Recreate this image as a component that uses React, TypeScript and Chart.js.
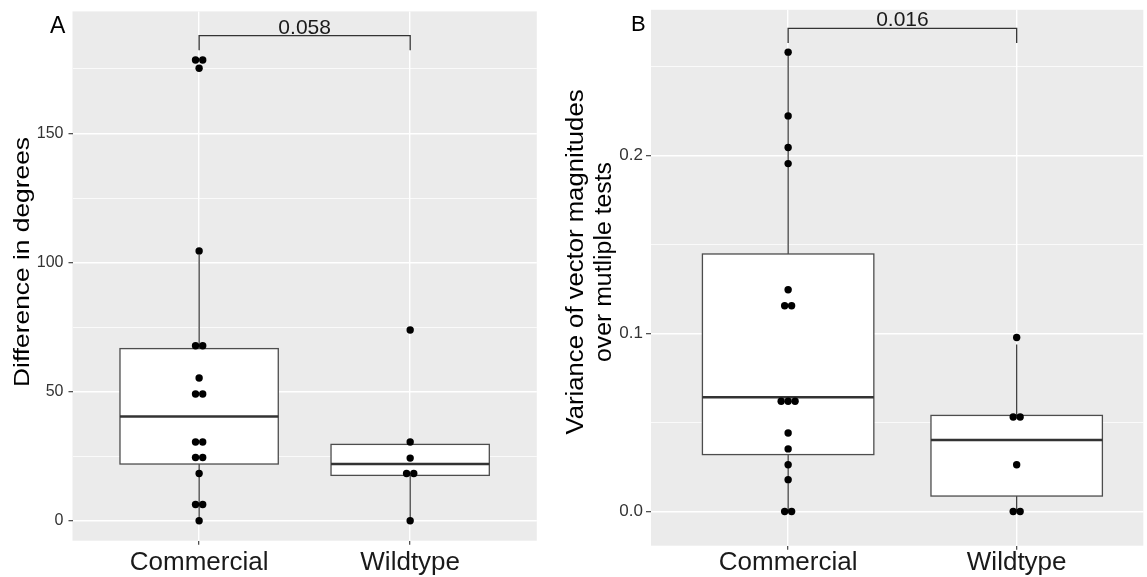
import React, { useEffect, useRef } from 'react';
import { Chart, registerables } from 'chart.js';

Chart.register(...registerables);

// ---------- shared ----------
const categories = ['Commercial', 'Wildtype'];

// ---------- Panel A: Difference in degrees ----------
const aCommercial = [178.5, 178.5, 175.3, 104.5, 67.8, 67.8, 55.3, 49.1, 49.1, 30.5, 30.5, 24.5, 24.5, 18.3, 6.3, 6.3, 0];
const aWildtype = [73.9, 30.5, 24.3, 18.3, 18.3, 0];
const aQ1 = [22.0, 17.6];
const aMedian = [40.4, 22.0];
const aQ3 = [66.7, 29.6];
const aWhiskerLow = [0, 0];
const aWhiskerHigh = [103, 30.5];
const aMajorTicks = [0, 50, 100, 150];
const aMinorTicks = [25, 75, 125, 175];
const aPValue = '0.058';
const aBracket = [187.9, 182.3]; // bar level, tip level
const aTitle = ['Difference in degrees'];

// ---------- Panel B: Variance of vector magnitudes ----------
const bCommercial = [0.2581, 0.2223, 0.2045, 0.1955, 0.1246, 0.1156, 0.1156, 0.062, 0.062, 0.062, 0.0441, 0.0352, 0.0263, 0.0179, 0, 0];
const bWildtype = [0.0978, 0.0531, 0.0531, 0.0263, 0, 0];
const bQ1 = [0.032, 0.0087];
const bMedian = [0.0642, 0.0402];
const bQ3 = [0.1447, 0.054];
const bWhiskerLow = [0, 0];
const bWhiskerHigh = [0.2581, 0.0939];
const bMajorTicks = [0, 0.1, 0.2];
const bMinorTicks = [0.05, 0.15, 0.25];
const bPValue = '0.016';
const bBracket = [0.2715, 0.2633];
const bTitle = ['Variance of vector magnitudes', 'over mutliple tests'];

const FONT = '"Liberation Sans", Arial, Helvetica, sans-serif';
const PANEL_BG = '#EBEBEB';
const INK = '#333333';

// stack identical values side by side (dot-plot style, centred)
function stackDots(values: number[], cat: number, step: number) {
  const counts = new Map<number, number>();
  values.forEach((v) => counts.set(v, (counts.get(v) || 0) + 1));
  const seen = new Map<number, number>();
  return values.map((v) => {
    const n = counts.get(v) as number;
    const k = seen.get(v) || 0;
    seen.set(v, k + 1);
    return { x: cat + (k - (n - 1) / 2) * step, y: v };
  });
}

type PanelOpts = {
  groups: number[][];
  q1: number[]; med: number[]; q3: number[]; wLo: number[]; wHi: number[];
  major: number[]; minor: number[];
  yMin: number; yMax: number; xMax: number;
  padTop: number; padRight: number; yAxisW: number; xAxisH: number;
  dotStep: number;
  pValue: string; bracket: number[];
  letter: string; letterX: number; letterY: number; letterSize: number;
  title: string[]; titleSize: number; titleBaselines: number[]; titleLengths: number[]; titleCenterY: number;
  yTickSize: number; yTickLen: number; yTickPad: number; xTickPad: number;
  fmt: (v: number) => string;
};

function makeConfig(o: PanelOpts): any {
  const isMajor = (v: number) => o.major.some((m) => Math.abs(m - v) < 1e-9);
  const allTicks = [...o.major, ...o.minor].sort((a, b) => a - b);
  const points = o.groups.flatMap((g, i) => stackDots(g, i + 1, o.dotStep));

  const panelPlugin = {
    id: 'panel' + o.letter,
    beforeDraw(chart: any) {
      const { ctx, chartArea: a } = chart;
      ctx.save();
      ctx.fillStyle = '#ffffff';
      ctx.fillRect(0, 0, chart.width, chart.height);
      ctx.fillStyle = PANEL_BG;
      ctx.fillRect(a.left, a.top, a.right - a.left, a.bottom - a.top);
      ctx.restore();
    },
    beforeDatasetsDraw(chart: any) {
      const { ctx } = chart;
      const xs = chart.scales.x;
      const ys = chart.scales.y;
      ctx.save();
      categories.forEach((_, i) => {
        const c = i + 1;
        const xc = xs.getPixelForValue(c);
        const xl = xs.getPixelForValue(c - 0.375);
        const xr = xs.getPixelForValue(c + 0.375);
        const yq1 = ys.getPixelForValue(o.q1[i]);
        const yq3 = ys.getPixelForValue(o.q3[i]);
        const ymed = ys.getPixelForValue(o.med[i]);
        const ylo = ys.getPixelForValue(o.wLo[i]);
        const yhi = ys.getPixelForValue(o.wHi[i]);
        // whiskers
        ctx.strokeStyle = INK;
        ctx.lineWidth = 1.2;
        ctx.beginPath();
        ctx.moveTo(xc, yq3); ctx.lineTo(xc, yhi);
        ctx.moveTo(xc, yq1); ctx.lineTo(xc, ylo);
        ctx.stroke();
        // box
        ctx.fillStyle = '#ffffff';
        ctx.fillRect(xl, yq3, xr - xl, yq1 - yq3);
        ctx.strokeStyle = '#4d4d4d';
        ctx.lineWidth = 1.3;
        ctx.strokeRect(xl, yq3, xr - xl, yq1 - yq3);
        // median
        ctx.strokeStyle = INK;
        ctx.lineWidth = 2.6;
        ctx.beginPath();
        ctx.moveTo(xl, ymed); ctx.lineTo(xr, ymed);
        ctx.stroke();
      });
      ctx.restore();
    },
    afterDraw(chart: any) {
      const { ctx } = chart;
      const xs = chart.scales.x;
      const ys = chart.scales.y;
      ctx.save();
      // significance bracket
      const x1 = xs.getPixelForValue(1);
      const x2 = xs.getPixelForValue(2);
      const yb = ys.getPixelForValue(o.bracket[0]);
      const yt = ys.getPixelForValue(o.bracket[1]);
      ctx.strokeStyle = INK;
      ctx.lineWidth = 1.3;
      ctx.beginPath();
      ctx.moveTo(x1, yt); ctx.lineTo(x1, yb); ctx.lineTo(x2, yb); ctx.lineTo(x2, yt);
      ctx.stroke();
      ctx.fillStyle = '#1a1a1a';
      ctx.font = `21px ${FONT}`;
      ctx.textAlign = 'center';
      ctx.textBaseline = 'alphabetic';
      ctx.fillText(o.pValue, (x1 + x2) / 2, yb - 2);
      // panel letter
      ctx.font = `${o.letterSize}px ${FONT}`;
      ctx.textAlign = 'left';
      ctx.fillStyle = '#000000';
      ctx.fillText(o.letter, o.letterX, o.letterY);
      // y title (rotated, stretched along its length)
      ctx.font = `${o.titleSize}px ${FONT}`;
      ctx.textAlign = 'center';
      o.title.forEach((line, i) => {
        const w = ctx.measureText(line).width;
        ctx.save();
        ctx.translate(o.titleBaselines[i], o.titleCenterY);
        ctx.rotate(-Math.PI / 2);
        ctx.scale(o.titleLengths[i] / w, 1);
        ctx.fillText(line, 0, 0);
        ctx.restore();
      });
      ctx.restore();
    },
  };

  return {
    type: 'scatter',
    data: {
      datasets: [
        {
          data: points,
          pointRadius: 3.7,
          pointHoverRadius: 3.7,
          pointBackgroundColor: '#000000',
          pointBorderWidth: 0,
          pointBorderColor: '#000000',
        },
      ],
    },
    options: {
      responsive: false,
      animation: false,
      events: [],
      layout: { padding: { top: o.padTop, right: o.padRight, left: 0, bottom: 0 } },
      plugins: { legend: { display: false }, tooltip: { enabled: false } },
      scales: {
        x: {
          type: 'linear',
          min: 0.4,
          max: o.xMax,
          bounds: 'data',
          afterBuildTicks: (s: any) => { s.ticks = categories.map((_, i) => ({ value: i + 1 })); },
          afterFit: (s: any) => { s.height = o.xAxisH; },
          ticks: {
            callback: (v: number) => categories[Math.round(v) - 1] || '',
            font: { family: FONT, size: 26, lineHeight: 1 },
            color: '#1a1a1a',
            padding: o.xTickPad,
            maxRotation: 0,
            minRotation: 0,
            autoSkip: false,
          },
          grid: { color: '#ffffff', lineWidth: 1.4, tickColor: INK, tickLength: 4, tickWidth: 1.1 },
          border: { display: false },
        },
        y: {
          type: 'linear',
          min: o.yMin,
          max: o.yMax,
          bounds: 'data',
          afterBuildTicks: (s: any) => { s.ticks = allTicks.map((v) => ({ value: v })); },
          afterFit: (s: any) => { s.width = o.yAxisW; },
          ticks: {
            callback: (v: number) => (isMajor(v) ? o.fmt(v) : ''),
            font: { family: FONT, size: o.yTickSize, lineHeight: 0.8 },
            color: '#333333',
            padding: o.yTickPad,
            autoSkip: false,
          },
          grid: {
            color: '#ffffff',
            lineWidth: (ctx: any) => (ctx.tick && isMajor(ctx.tick.value) ? 1.4 : 0.75),
            tickColor: (ctx: any) => (ctx.tick && isMajor(ctx.tick.value) ? INK : 'rgba(0,0,0,0)'),
            tickLength: o.yTickLen,
            tickWidth: 1.1,
          },
          border: { display: false },
        },
      },
    },
    plugins: [panelPlugin],
  };
}

const panelA: PanelOpts = {
  groups: [aCommercial, aWildtype],
  q1: aQ1, med: aMedian, q3: aQ3, wLo: aWhiskerLow, wHi: aWhiskerHigh,
  major: aMajorTicks, minor: aMinorTicks,
  yMin: -7.7, yMax: 197.3, xMax: 2.6,
  padTop: 9, padRight: 23.2, yAxisW: 72.5, xAxisH: 36.3,
  dotStep: 0.034,
  pValue: aPValue, bracket: aBracket,
  letter: 'A', letterX: 50, letterY: 33.3, letterSize: 23,
  title: aTitle, titleSize: 22, titleBaselines: [29], titleLengths: [250], titleCenterY: 262,
  yTickSize: 16, yTickLen: 4, yTickPad: 5, xTickPad: 5,
  fmt: (v) => String(v),
};

const panelB: PanelOpts = {
  groups: [bCommercial, bWildtype],
  q1: bQ1, med: bMedian, q3: bQ3, wLo: bWhiskerLow, wHi: bWhiskerHigh,
  major: bMajorTicks, minor: bMinorTicks,
  yMin: -0.0192, yMax: 0.2819, xMax: 2.554,
  padTop: 6.7, padRight: 0, yAxisW: 91, xAxisH: 31.3,
  dotStep: 0.0304,
  pValue: bPValue, bracket: bBracket,
  letter: 'B', letterX: 71, letterY: 31, letterSize: 22,
  title: bTitle, titleSize: 23, titleBaselines: [23, 51], titleLengths: [345, 200], titleCenterY: 262,
  yTickSize: 17, yTickLen: 5, yTickPad: 3, xTickPad: 0,
  fmt: (v) => v.toFixed(1),
};

export default function App() {
  const refA = useRef<HTMLCanvasElement>(null);
  const refB = useRef<HTMLCanvasElement>(null);

  useEffect(() => {
    const ca = new Chart(refA.current as HTMLCanvasElement, makeConfig(panelA));
    const cb = new Chart(refB.current as HTMLCanvasElement, makeConfig(panelB));
    return () => { ca.destroy(); cb.destroy(); };
  }, []);

  return (
    <div style={{ position: 'fixed', left: 0, top: 0, width: 1147, height: 577, background: '#ffffff', overflow: 'hidden' }}>
      <canvas ref={refA} width={560} height={577} style={{ position: 'absolute', left: 0, top: 0, width: 560, height: 577 }} />
      <canvas ref={refB} width={587} height={577} style={{ position: 'absolute', left: 560, top: 0, width: 587, height: 577 }} />
    </div>
  );
}
